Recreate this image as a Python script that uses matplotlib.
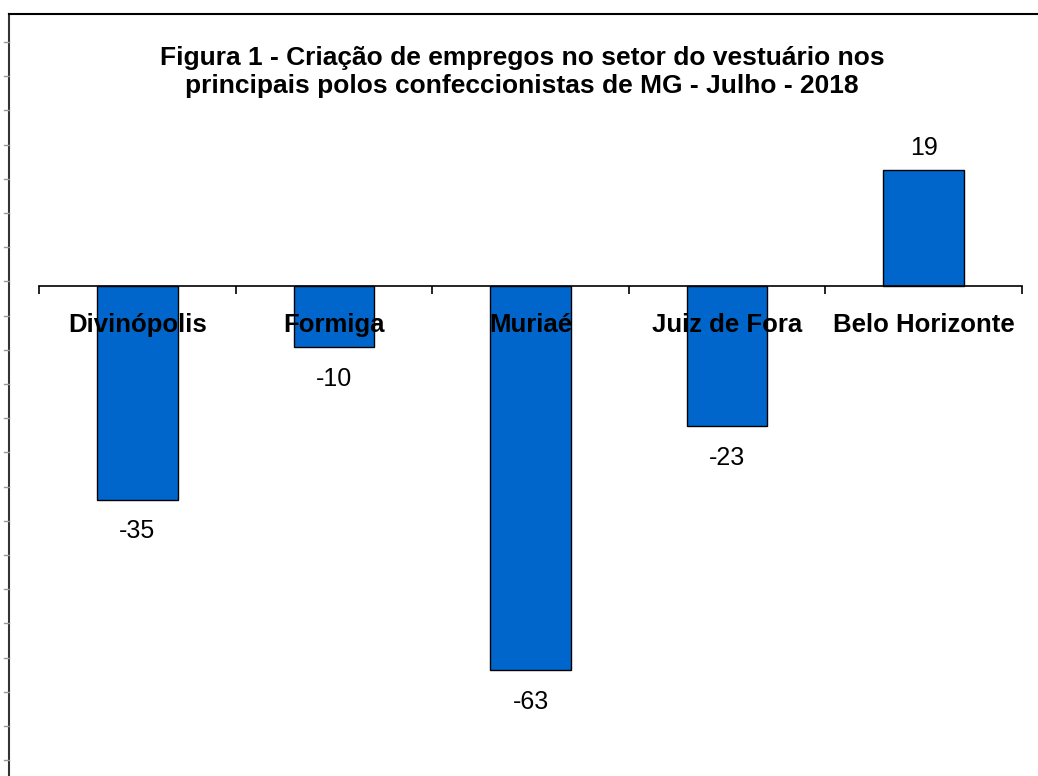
import numpy as np
import matplotlib.pyplot as plt
from matplotlib.lines import Line2D

cities = ['Divinópolis', 'Formiga', 'Muriaé', 'Juiz de Fora', 'Belo Horizonte']
jobs = [-35, -10, -63, -23, 19]
title = ('Figura 1 - Criação de empregos no setor do vestuário nos\n'
         'principais polos confeccionistas de MG - Julho - 2018')

plt.rcParams['font.family'] = ['Liberation Sans', 'DejaVu Sans']

W, H = 1038, 776
fig = plt.figure(figsize=(W / 100, H / 100), dpi=100)

# frame of the picture (top and left edges, with small ticks on the left)
fig.add_artist(Line2D([9 / W, 9 / W], [0, 1 - 14 / H], color='#333333', lw=1.5))
fig.add_artist(Line2D([9 / W, 1], [1 - 14 / H, 1 - 14 / H], color='black', lw=1.5))
for yp in np.arange(42, H, 34.2):
    fig.add_artist(Line2D([4 / W, 9 / W], [1 - yp / H, 1 - yp / H], color='#999999', lw=1))

fig.text(522 / W, 1 - 72 / H, title, ha='center', va='center',
         fontsize=19, fontweight='bold', linespacing=1.22)

ax = fig.add_axes([39 / W, 0, (1022 - 39) / W, 1 - 130 / H])
x = np.arange(len(cities))
ax.bar(x, jobs, width=0.41, color='#0066CC', edgecolor='black', linewidth=1)
ax.set_xlim(-0.5, len(cities) - 0.5)
ax.set_ylim((286 - 776) / 6.1, (286 - 130) / 6.1)

for xi, v in zip(x, jobs):
    if v < 0:
        ax.text(xi, v - 5.2, str(v), ha='center', va='center', fontsize=18)
    else:
        ax.text(xi, v + 3.6, str(v), ha='center', va='center', fontsize=18)

for s in ['left', 'right', 'top']:
    ax.spines[s].set_visible(False)
ax.spines['bottom'].set_position(('data', 0))
ax.spines['bottom'].set_linewidth(1.2)
ax.set_yticks([])
ax.set_xticks(x)
ax.set_xticklabels(cities, fontsize=18.5, fontweight='bold')
ax.tick_params(axis='x', which='major', length=0, pad=28)
ax.set_xticks(np.arange(len(cities) + 1) - 0.5, minor=True)
ax.tick_params(axis='x', which='minor', length=6, width=1.2, direction='out')
for lab in ax.get_xticklabels():
    lab.set_verticalalignment('center')

fig.savefig('out.png', dpi=100)
